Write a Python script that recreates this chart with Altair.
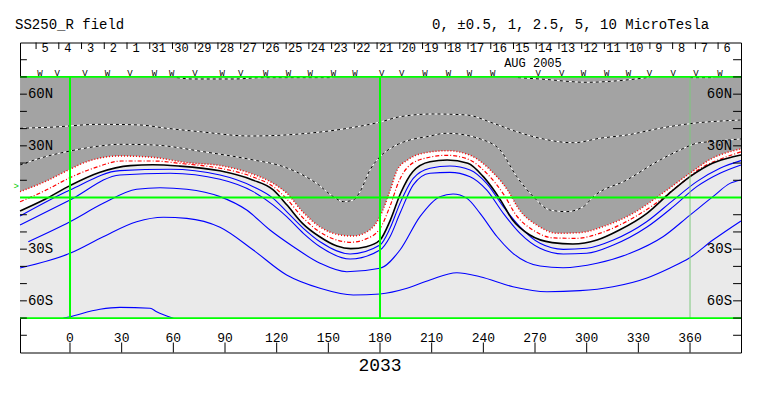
import altair as alt
import pandas as pd

# ---------------- data (lon deg, lat deg) ----------------
NEUTRAL_LON = [-29, -14.5, 0, 17, 35, 48, 63, 87, 106, 118, 126, 135, 145, 155, 163, 172, 180, 186, 192, 199,
               209, 219, 231, 240, 250, 257, 267, 280, 292, 306, 319, 335, 348, 360, 373, 385, 389.6]
NEUTRAL_LAT = [-7.8, -1.0, 6.9, 14.5, 18.5, 19.0, 18.3, 15.5, 10.2, 4.4, -4.4, -15.0, -22.8, -28.2, -29.7, -28.6,
               -24.7, -13.1, 2.6, 15.0, 20.8, 21.8, 19.9, 12.1, -1.5, -13.1, -21.8, -26.2, -27.0, -24.7, -18.9,
               -9.2, 2.4, 12.1, 19.9, 23.7, 24.7]

POS1_LON = [-29, -14.5, 0, 9.7, 29, 48, 68, 87, 106, 118, 126, 135, 145, 157, 164, 174, 180, 186, 190, 196,
            205, 219, 232, 244, 254, 261, 271, 283, 296, 312, 327, 344, 360, 373, 383, 389.6]
POS1_LAT = [3.4, 9.2, 16.4, 20.8, 24.1, 23.3, 20.2, 18.6, 13.6, 8.2, 2.4, -8.2, -17.0, -21.8, -22.4, -18.9,
            -11.1, 4.4, 16.0, 21.8, 25.7, 27.2, 24.7, 16.0, 4.4, -7.3, -16.0, -20.8, -20.4, -16.0, -9.2, 2.4,
            14.1, 22.8, 26.6, 28.2]

POS05_LON = [-29, -14.5, 0, 15, 30, 48, 66, 87, 106, 118, 126, 135, 145, 156, 163, 172, 180, 186, 191, 197,
             207, 219, 231, 242, 252, 259, 269, 281, 294, 309, 323, 340, 354, 367, 380, 389.6]
POS05_LAT = [-2.5, 4.0, 11.5, 17.5, 21.2, 21.2, 19.6, 17.0, 12.0, 6.3, -1.0, -11.5, -20.0, -25.0, -26.0, -24.0,
             -18.0, -4.5, 9.5, 18.5, 23.0, 24.5, 22.3, 14.0, 1.5, -10.2, -19.0, -23.5, -23.7, -20.3, -14.0,
             -3.5, 7.5, 17.5, 23.2, 26.5]

POS25_LON = [-29, -17.4, 0, 17.4, 29, 48.4, 77.4, 106.4, 123.9, 143.2, 152.9, 158.7, 164.5, 168.4, 174.2, 180,
             187.7, 197.4, 207.1, 218.7, 240, 249.7, 259.4, 269, 278.7, 288.4, 298.1, 303.9, 323.3, 342.6,
             354.2, 363.9, 371.6, 389.6]
POS25_LAT = [18.9, 22.8, 27.0, 29.9, 30.9, 30.5, 26.6, 21.8, 17.9, 8.2, 0.5, -2.4, -1.5, 3.4, 16.0, 23.7,
             29.5, 33.4, 35.3, 37.3, 33.4, 27.6, 12.1, 0.5, -7.3, -8.2, -5.3, 0.5, 10.2, 21.8, 27.6, 31.5,
             32.4, 34.0]

POS5_LON = [-29, -11.6, 17.4, 40.6, 56.1, 75.5, 104.5, 133.5, 162.6, 180, 191.6, 211, 230.3, 245.8, 259.4,
            272.9, 292.2, 307.7, 323.3, 342.6, 361.9, 381.3, 389.6]
POS5_LAT = [40.2, 40.8, 42.5, 42.1, 40.2, 38.2, 35.7, 36.9, 40.4, 43.8, 46.9, 48.5, 47.9, 43.1, 38.2, 34.4,
            31.8, 34.4, 36.3, 40.2, 43.1, 44.6, 45.0]

POS10A_LON = [62, 71.4, 94.6, 112.1, 152.7]
POS10A_LAT = [69.6, 68.8, 68.8, 69.6, 69.6]
POS10B_LON = [260.1, 272.9, 300.2, 319.4, 336.8]
POS10B_LAT = [69.6, 68.8, 66.9, 67.9, 69.8]
POS10C_LON = [360, 373.3]
POS10C_LAT = [69.6, 69.6]

NEGA_LON = [-29, 0, 29, 58.1, 87.1, 106.4, 118, 125.8, 135.5, 145.2, 162.6, 180, 185.8, 191.6, 199.3, 209,
            220.6, 232.3, 241.9, 251.6, 261.3, 272.9, 286.4, 300, 315.5, 334.8, 350.3, 363.9, 377.4, 389.6]
NEGA_LAT = [-10.7, 4.4, 15.6, 16.4, 13.1, 6.3, -0.5, -8.2, -17.9, -25.7, -32.8, -27.6, -17.9, -3.4, 11.1,
            17.0, 18.3, 16.0, 8.2, -5.3, -17.0, -26.6, -30.1, -29.5, -24.7, -14.1, -1.5, 9.2, 17.0, 21.4]

NEGB_LON = NEGA_LON
NEGB_LAT = [-16.0, -1.5, 13.1, 14.1, 10.6, 3.4, -4.4, -11.1, -20.8, -28.6, -35.7, -30.5, -22.8, -9.2, 7.3,
            14.1, 14.6, 12.1, 4.4, -9.2, -20.8, -29.5, -32.8, -32.4, -27.6, -17.3, -5.3, 6.3, 14.1, 18.9]

NEGC_LON = [-24.2, 0, 19.3, 38.7, 52.3, 67.8, 87.1, 102.6, 116.1, 129.7, 145.2, 160.7, 180, 191.6, 203.2,
            214.8, 222.4, 230.5, 238.1, 248, 257.2, 272.9, 286.3, 306, 325.2, 344.3, 360, 373.3, 383.2, 389.6]
NEGC_LAT = [-25.7, -14.1, -3.4, 4.8, 5.7, 4.8, 0.5, -7.3, -18.9, -28.6, -38.2, -43.1, -41.1, -30.5, -11.1,
            0.5, 2.0, -0.5, -9.2, -22.8, -32.4, -39.8, -40.8, -38.2, -32.4, -22.8, -10.2, 0.5, 8.2, 10.2]

NEGD_LON = [-29, 0, 19.3, 38.7, 54.2, 67.8, 87.1, 106.4, 125.8, 145.2, 164.5, 180, 195.7, 209, 224.6, 238.1,
            257.2, 276.9, 296.1, 315.3, 335, 348.4, 359.4, 373.3, 389.6]
NEGD_LAT = [-40.9, -32.4, -22.8, -14.1, -11.5, -12.1, -17.3, -30.5, -45.0, -52.7, -56.6, -56.0, -52.7, -47.9,
            -43.7, -46.0, -51.8, -54.7, -54.1, -51.8, -46.7, -40.9, -35.3, -24.7, -13.6]

NEGE_LON = [-3.9, 0, 17.4, 29, 46.5, 50.3, 60]
NEGE_LAT = [-70.1, -69.2, -64.9, -63.8, -64.3, -66.3, -70.1]

# axes / annotation values
LON_TICKS = [0, 30, 60, 90, 120, 150, 180, 210, 240, 270, 300, 330, 360]
LAT_TICKS = [-80, -70, -60, -50, -40, -30, -20, -10, 10, 20, 30, 40, 50, 60, 70, 80]
LAT_LABEL_VALUES = [60, 30, -30, -60]
LAT_LABEL_TEXT = ["60N", "30N", "30S", "60S"]
DAY_TICK_LON = [-19.7, -6.5, 6.7, 19.9, 33.1, 46.3, 59.5, 72.7, 85.9, 99.1, 112.3, 125.5, 138.7, 151.9, 165.1,
                178.3, 191.5, 204.7, 217.9, 231.1, 244.3, 257.5, 270.7, 283.9, 297.1, 310.3, 323.5, 336.7,
                349.9, 363.1, 376.3]
DAY_LABELS = ["5", "4", "3", "2", "1", "31", "30", "29", "28", "27", "26", "25", "24", "23", "22", "21", "20",
              "19", "18", "17", "16", "15", "14", "13", "12", "11", "10", "9", "8", "7", "6"]
MARK_LON = [-17.4, -7.4, 8.7, 21.7, 34.8, 49.0, 59.1, 72.6, 88.4, 99.1, 113.6, 126.8, 139.4, 152.9, 165.5,
            181.0, 192.6, 206.1, 219.7, 231.9, 245.5, 271.9, 285.5, 298.1, 311.6, 324.2, 336.4, 350.3, 363.5,
            377.4]
MARK_TEXT = ["W", "V", "V", "W", "V", "W", "W", "V", "W", "V", "W", "W", "W", "W", "W",
             "V", "V", "W", "W", "W", "W", "V", "V", "W", "W", "W", "V", "V", "V", "W"]
GRID_LON = [0, 180]
GRID_LAT = [-70, 0, 70]
EARTH_LAT = [6.7]

XDOM = [-29.03, 389.6]
YDOM = [-90, 90]
MAP_TOP = 70
MAP_BOTTOM = -70
FONT = "Liberation Mono"
INTERP = "monotone"

xs = alt.Scale(domain=XDOM, nice=False, zero=False)
ys = alt.Scale(domain=YDOM, nice=False, zero=False)


def X(f="lon"):
    return alt.X(f, type="quantitative", scale=xs, axis=None)


def Y(f="lat"):
    return alt.Y(f, type="quantitative", scale=ys, axis=None)


def ldf(lons, lats, s=0):
    return pd.DataFrame({"lon": lons, "lat": lats, "i": list(range(len(lons))), "s": s,
                         "top": MAP_TOP})


layers = []

# map background
box = pd.DataFrame({"x1": [XDOM[0]], "x2": [XDOM[1]], "y1": [MAP_BOTTOM], "y2": [MAP_TOP]})
layers.append(alt.Chart(box).mark_rect(color="#EAEAEA").encode(
    x=X("x1"), x2="x2:Q", y=Y("y1"), y2="y2:Q"))

# white band above neutral line, dark gray above +1 contour
layers.append(alt.Chart(ldf(NEUTRAL_LON, NEUTRAL_LAT)).mark_area(
    color="white", opacity=1, interpolate=INTERP).encode(x=X(), y=Y(), y2="top:Q"))
layers.append(alt.Chart(ldf(POS1_LON, POS1_LAT)).mark_area(
    color="#A3A3A3", opacity=1, interpolate=INTERP).encode(x=X(), y=Y(), y2="top:Q"))

# positive dashed contours (white under black dashes)
pos_df = pd.concat([ldf(POS25_LON, POS25_LAT, 0), ldf(POS5_LON, POS5_LAT, 1),
                    ldf(POS10A_LON, POS10A_LAT, 2), ldf(POS10B_LON, POS10B_LAT, 3),
                    ldf(POS10C_LON, POS10C_LAT, 4)])
layers.append(alt.Chart(pos_df).mark_line(color="white", strokeWidth=1, interpolate=INTERP).encode(
    x=X(), y=Y(), detail="s:N", order="i:Q"))
layers.append(alt.Chart(pos_df).mark_line(color="black", strokeWidth=1, strokeDash=[3, 3],
                                          interpolate=INTERP).encode(
    x=X(), y=Y(), detail="s:N", order="i:Q"))

# red contours
layers.append(alt.Chart(ldf(POS05_LON, POS05_LAT)).mark_line(
    color="#FF0000", strokeWidth=1.2, strokeDash=[4, 2, 1, 2], interpolate=INTERP).encode(
    x=X(), y=Y(), order="i:Q"))
layers.append(alt.Chart(ldf(POS1_LON, POS1_LAT)).mark_line(
    color="#FF0000", strokeWidth=1.5, strokeDash=[1, 2], interpolate=INTERP).encode(
    x=X(), y=Y(), order="i:Q"))

# negative contours
neg_df = pd.concat([ldf(NEGA_LON, NEGA_LAT, 0), ldf(NEGB_LON, NEGB_LAT, 1), ldf(NEGC_LON, NEGC_LAT, 2),
                    ldf(NEGD_LON, NEGD_LAT, 3), ldf(NEGE_LON, NEGE_LAT, 4)])
layers.append(alt.Chart(neg_df).mark_line(color="#0000FF", strokeWidth=1.1, interpolate=INTERP).encode(
    x=X(), y=Y(), detail="s:N", order="i:Q"))

# neutral line
layers.append(alt.Chart(ldf(NEUTRAL_LON, NEUTRAL_LAT)).mark_line(
    color="black", strokeWidth=1.6, interpolate=INTERP).encode(x=X(), y=Y(), order="i:Q"))

# green grid
vgrid = pd.DataFrame({"lon": GRID_LON, "y1": MAP_BOTTOM, "y2": MAP_TOP})
layers.append(alt.Chart(vgrid).mark_rule(color="#00FF00", strokeWidth=2).encode(
    x=X(), y=Y("y1"), y2="y2:Q"))
vgrid360 = pd.DataFrame({"lon": [360], "y1": MAP_BOTTOM, "y2": MAP_TOP})
layers.append(alt.Chart(vgrid360).mark_rule(color="#7FC97F", strokeWidth=1).encode(
    x=X(), y=Y("y1"), y2="y2:Q"))
hgrid = pd.DataFrame({"lat": GRID_LAT, "x1": XDOM[0], "x2": XDOM[1]})
layers.append(alt.Chart(hgrid).mark_rule(color="#00FF00", strokeWidth=1.8).encode(
    y=Y(), x=X("x1"), x2="x2:Q"))

# ticks
tkl = pd.DataFrame({"lat": LAT_TICKS, "x1": XDOM[0], "x2": XDOM[0] + 4.0})
layers.append(alt.Chart(tkl).mark_rule(color="black", strokeWidth=1).encode(
    y=Y(), x=X("x1"), x2="x2:Q"))
tkr = pd.DataFrame({"lat": LAT_TICKS, "x1": XDOM[1] - 4.6, "x2": XDOM[1]})
layers.append(alt.Chart(tkr).mark_rule(color="black", strokeWidth=1).encode(
    y=Y(), x=X("x1"), x2="x2:Q"))
tkb = pd.DataFrame({"lon": LON_TICKS, "y1": -90, "y2": -84.2})
layers.append(alt.Chart(tkb).mark_rule(color="black", strokeWidth=1).encode(
    x=X(), y=Y("y1"), y2="y2:Q"))
tkd = pd.DataFrame({"lon": DAY_TICK_LON, "y1": 86.2, "y2": 90})
layers.append(alt.Chart(tkd).mark_rule(color="black", strokeWidth=1).encode(
    x=X(), y=Y("y1"), y2="y2:Q"))

# labels
labl = pd.DataFrame({"lat": LAT_LABEL_VALUES, "t": LAT_LABEL_TEXT, "x": XDOM[0] + 4.0})
layers.append(alt.Chart(labl).mark_text(font=FONT, fontSize=14, align="left", baseline="middle", dx=1).encode(
    y=Y(), x=X("x"), text="t:N"))
labr = pd.DataFrame({"lat": LAT_LABEL_VALUES, "t": LAT_LABEL_TEXT, "x": XDOM[1] - 4.6})
layers.append(alt.Chart(labr).mark_text(font=FONT, fontSize=14, align="right", baseline="middle", dx=-1).encode(
    y=Y(), x=X("x"), text="t:N"))
labb = pd.DataFrame({"lon": LON_TICKS, "t": [str(v) for v in LON_TICKS], "lat": -81.6})
layers.append(alt.Chart(labb).mark_text(font=FONT, fontSize=13, align="center", baseline="middle").encode(
    x=X(), y=Y(), text="t:N"))
labd = pd.DataFrame({"lon": DAY_TICK_LON, "t": DAY_LABELS, "lat": 86.6})
layers.append(alt.Chart(labd).mark_text(font=FONT, fontSize=12, align="center", baseline="middle", dx=9).encode(
    x=X(), y=Y(), text="t:N"))
labm = pd.DataFrame({"lon": MARK_LON, "t": MARK_TEXT, "lat": 72.1})
layers.append(alt.Chart(labm).mark_text(font=FONT, fontSize=9, align="center",
                                        baseline="middle", color="black").encode(x=X(), y=Y(), text="t:N"))
labe = pd.DataFrame({"lat": EARTH_LAT, "t": [">"], "lon": XDOM[0]})
layers.append(alt.Chart(labe).mark_text(font=FONT, fontSize=9, align="right", baseline="middle",
                                        color="#00CC00", dx=-1).encode(y=Y(), x=X(), text="t:N"))

# texts outside the frame (placed in map coordinates)
tl = pd.DataFrame({"t": ["SS250_R field", "0, \u00b10.5, 1, 2.5, 5, 10 MicroTesla"],
                   "lon": [-31.9, 210.2], "lat": [100.2, 100.2]})
layers.append(alt.Chart(tl).mark_text(font=FONT, fontSize=14, align="left", baseline="middle").encode(
    x=X(), y=Y(), text="t:N"))
tc = pd.DataFrame({"t": ["AUG 2005"], "lon": [268.8], "lat": [78.3]})
layers.append(alt.Chart(tc).mark_text(font=FONT, fontSize=12, align="center", baseline="middle").encode(
    x=X(), y=Y(), text="t:N"))
tr = pd.DataFrame({"t": ["2033"], "lon": [180], "lat": [-97.8]})
layers.append(alt.Chart(tr).mark_text(font=FONT, fontSize=18, align="center", baseline="middle").encode(
    x=X(), y=Y(), text="t:N"))

chart = alt.layer(*layers).properties(
    width=721, height=310,
    padding={"left": 12, "top": 34.5, "right": 4, "bottom": 30},
    autosize=alt.AutoSizeParams(type="none"),
    background="white",
).configure_view(stroke="black", strokeWidth=1)

chart.save("out.html", embed_options={"renderer": "svg", "actions": False})
